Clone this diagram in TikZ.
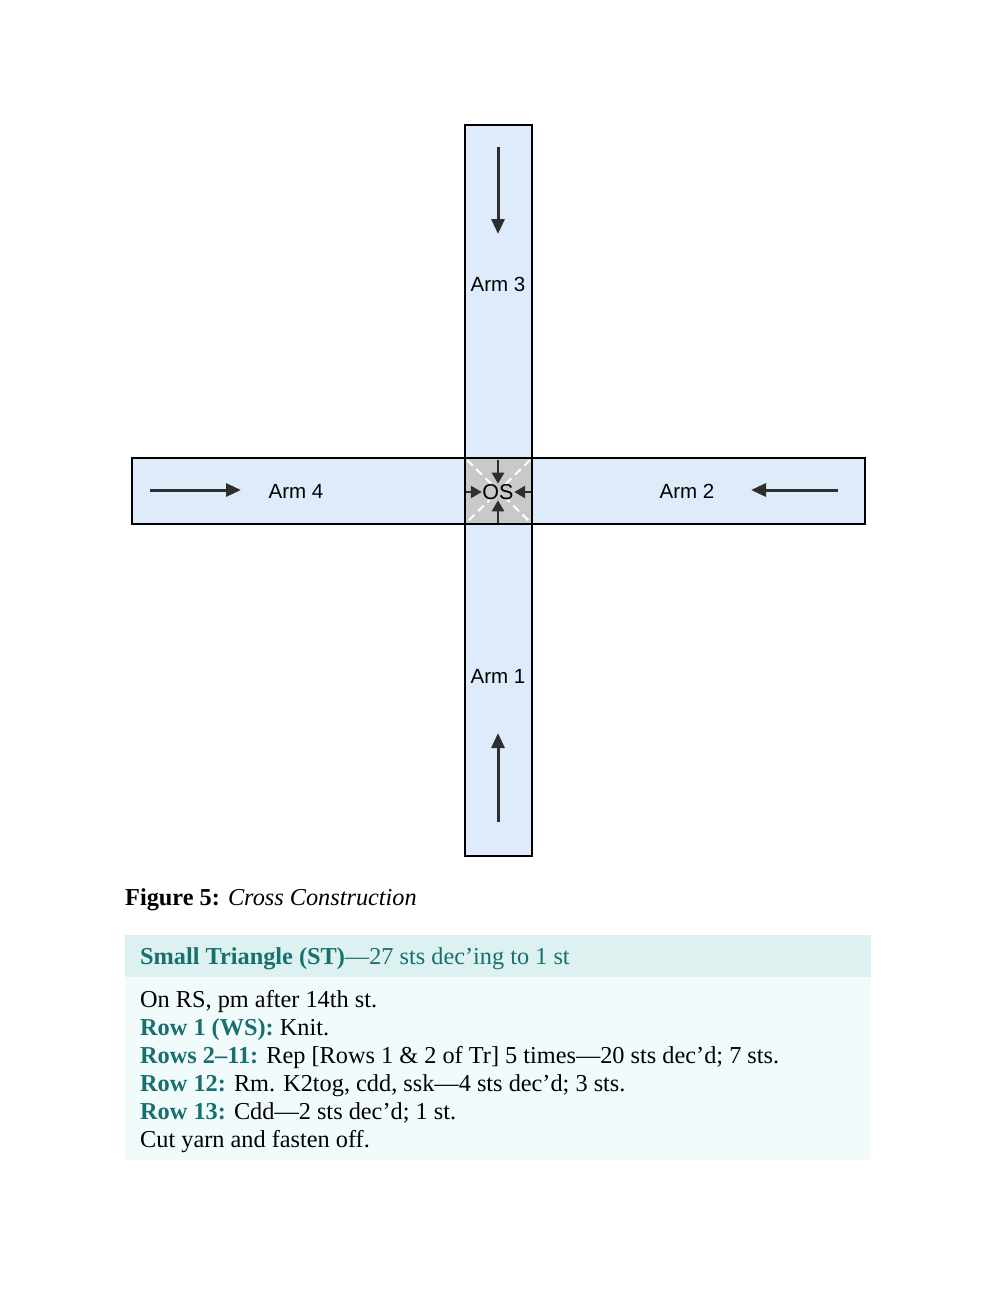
\documentclass[tikz,border=0pt]{standalone}
\usepackage{fontspec}
\setmainfont{Liberation Serif}
\newfontfamily\armfont{Liberation Sans}
\usetikzlibrary{arrows.meta}
\definecolor{armblue}{HTML}{DDEBFA}
\definecolor{osgray}{HTML}{C9C9C9}
\definecolor{teal}{HTML}{17706E}
\definecolor{headbg}{HTML}{DDF1F1}
\definecolor{bodybg}{HTML}{F2FBFC}
\definecolor{arrowgray}{HTML}{2E2E2E}
\tikzset{
  armbox/.style={draw=black, line width=2.4pt, fill=armblue},
  flow/.style={draw=arrowgray, line width=3pt, -{Triangle[length=15pt,width=13pt]}},
  small flow/.style={draw=arrowgray, line width=2.6pt, -{Triangle[length=11pt,width=12pt]}},
  armlabel/.style={font=\armfont\fontsize{20.5}{24}\selectfont, inner sep=0pt},
  bodytext/.style={anchor=base west, inner sep=0pt, font=\fontsize{24.3}{28}\selectfont},
  osdash/.style={white, line width=2pt, dash pattern=on 8pt off 5pt},
}
\begin{document}
\begin{tikzpicture}[x=1pt,y=-1pt]
\useasboundingbox (0,0) rectangle (997,1290);
% arms
\path[armbox] (465,125) rectangle (532,458);
\path[armbox] (465,524) rectangle (532,856);
\path[armbox] (132,458) rectangle (465,524);
\path[armbox] (532,458) rectangle (865,524);
\path[draw=black, line width=2.4pt, fill=osgray] (465,458) rectangle (532,524);
\draw[osdash] (467,460) -- (530,522);
\draw[osdash] (530,460) -- (467,522);
% labels
\node[armlabel] (a3) at (498,284) {Arm 3};
\node[armlabel] (a1) at (498,676) {Arm 1};
\node[armlabel] (a4) at (296,491) {Arm 4};
\node[armlabel] (a2) at (687,491) {Arm 2};
\node[armlabel, font=\armfont\fontsize{21.5}{24}\selectfont, fill=osgray, inner sep=0.5pt] (os) at (498,492) {OS};
% arrows
\coordinate (a3s) at (498,147); \coordinate (a3e) at (498,234);
\coordinate (a1s) at (498,822); \coordinate (a1e) at (498,733);
\coordinate (a4s) at (150,490); \coordinate (a4e) at (241,490);
\coordinate (a2s) at (838,490); \coordinate (a2e) at (751,490);
\draw[flow] (a3s) -- (a3e);
\draw[flow] (a1s) -- (a1e);
\draw[flow] (a4s) -- (a4e);
\draw[flow] (a2s) -- (a2e);
\coordinate (ost) at (498,460); \coordinate (osb) at (498,523);
\coordinate (osl) at (466,492); \coordinate (osr) at (531,492);
\draw[small flow] (ost) -- (os.north);
\draw[small flow] (osb) -- (os.south);
\draw[small flow] (osl) -- (os.west);
\draw[small flow] (osr) -- (os.east);
% caption
\node[bodytext] (cap) at (125,905) {\textbf{Figure 5:} \textit{Cross Construction}};
% table
\path[fill=headbg] (125,935) rectangle (871,977);
\path[fill=bodybg] (125,977) rectangle (871,1160);
\node[bodytext, text=teal] (head) at (140,964) {\textbf{Small Triangle (ST)}—27 sts dec’ing to 1 st};
\node[bodytext] (l1) at (140,1007) {On RS, pm after 14th st.};
\node[bodytext] (l2) at (140,1035) {\textcolor{teal}{\textbf{Row 1 (WS):}} Knit.};
\node[bodytext] (l3) at (140,1063) {\textcolor{teal}{\textbf{Rows 2–11:}} Rep [Rows 1 \& 2 of Tr] 5 times—20 sts dec’d; 7 sts.};
\node[bodytext] (l4) at (140,1091) {\textcolor{teal}{\textbf{Row 12:}} Rm. K2tog, cdd, ssk—4 sts dec’d; 3 sts.};
\node[bodytext] (l5) at (140,1119) {\textcolor{teal}{\textbf{Row 13:}} Cdd—2 sts dec’d; 1 st.};
\node[bodytext] (l6) at (140,1147) {Cut yarn and fasten off.};
\end{tikzpicture}
\end{document}
